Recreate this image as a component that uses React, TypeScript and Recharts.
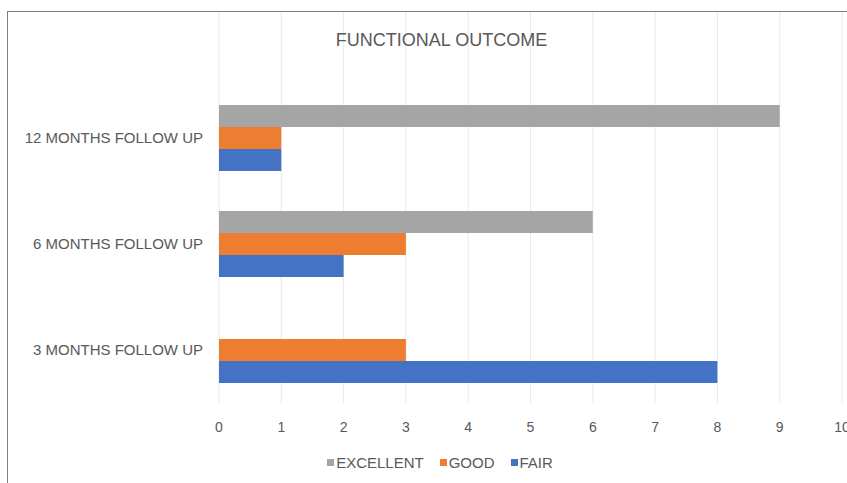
import React from "react";
import { BarChart, Bar, XAxis, YAxis, CartesianGrid } from "recharts";

const categories = ["12 MONTHS FOLLOW UP", "6 MONTHS FOLLOW UP", "3 MONTHS FOLLOW UP"];
const excellent = [9, 6, 0];
const good = [1, 3, 3];
const fair = [1, 2, 8];
const xTicks = [0, 1, 2, 3, 4, 5, 6, 7, 8, 9, 10];

const series = [
  { key: "excellent", name: "EXCELLENT", color: "#A5A5A5" },
  { key: "good", name: "GOOD", color: "#ED7D31" },
  { key: "fair", name: "FAIR", color: "#4472C4" },
];

const data = categories.map((c, i) => ({
  category: c,
  excellent: excellent[i],
  good: good[i],
  fair: fair[i],
}));

const FONT = "'Liberation Sans', Arial, sans-serif";
const TEXT = "#595959";

export default function App() {
  return (
    <div
      style={{
        position: "absolute",
        left: 0,
        top: 0,
        width: 847,
        height: 483,
        overflow: "hidden",
        background: "#fff",
        fontFamily: FONT,
      }}
    >
      <div
        style={{
          position: "absolute",
          left: 7,
          top: 11,
          width: 1000,
          height: 1000,
          borderLeft: "1px solid #808080",
          borderTop: "1px solid #808080",
        }}
      />
      <BarChart
        width={847}
        height={483}
        data={data}
        layout="vertical"
        margin={{ top: 12, right: 5, bottom: 40, left: 0 }}
        barCategoryGap={20}
        barGap={0}
      >
        <CartesianGrid horizontal={false} stroke="#E8E8E8" />
        <XAxis
          type="number"
          domain={[0, 10]}
          ticks={xTicks}
          interval={0}
          axisLine={false}
          tickLine={false}
          tickMargin={13}
          height={40}
          tick={{ fill: TEXT, fontSize: 14, fontFamily: FONT }}
        />
        <YAxis
          type="category"
          dataKey="category"
          width={219}
          padding={{ top: 73, bottom: 0 }}
          axisLine={false}
          tickLine={false}
          tickMargin={10}
          tick={{ fill: TEXT, fontSize: 15, fontFamily: FONT }}
        />
        {series.map((s) => (
          <Bar key={s.key} dataKey={s.key} name={s.name} fill={s.color} isAnimationActive={false} />
        ))}
      </BarChart>
      <div
        style={{
          position: "absolute",
          left: 335,
          top: 30,
          width: 213,
          textAlign: "center",
          fontSize: 18,
          color: TEXT,
          whiteSpace: "nowrap",
        }}
      >
        FUNCTIONAL OUTCOME
      </div>
      <div
        style={{
          position: "absolute",
          left: 0,
          width: 880,
          top: 454,
          display: "flex",
          justifyContent: "center",
          gap: 16,
          fontSize: 15,
          color: TEXT,
        }}
      >
        {series.map((s) => (
          <div key={s.key} style={{ display: "flex", alignItems: "center", gap: 2 }}>
            <span style={{ display: "inline-block", width: 7, height: 7, background: s.color }} />
            <span>{s.name}</span>
          </div>
        ))}
      </div>
    </div>
  );
}
